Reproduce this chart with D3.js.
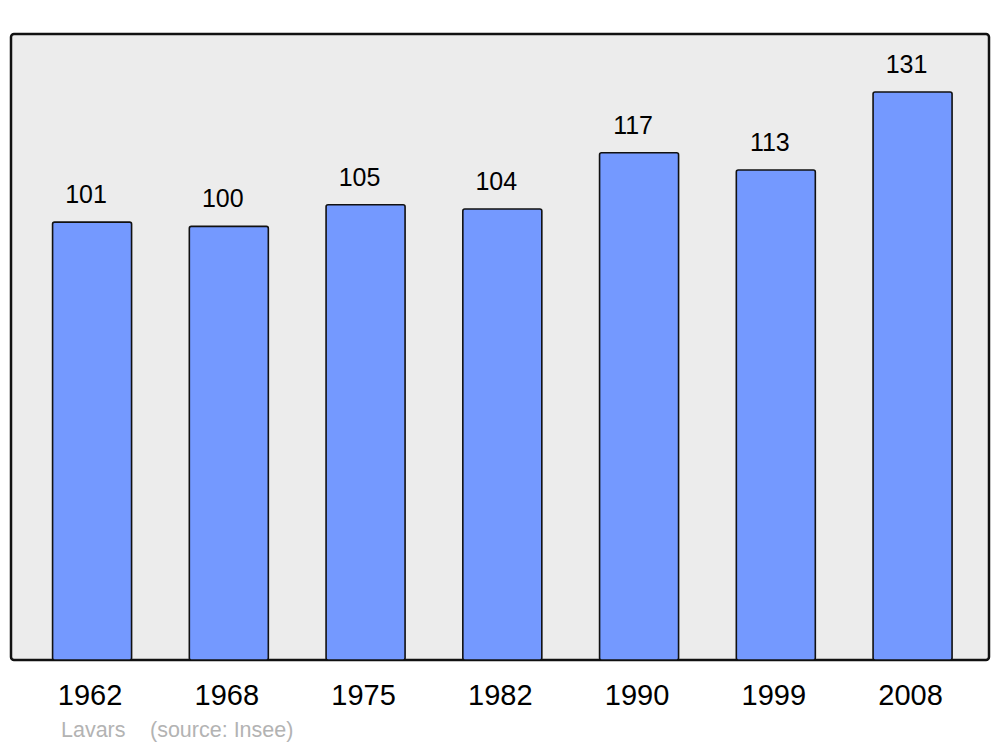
<!DOCTYPE html>
<html>
<head>
<meta charset="utf-8">
<script src="https://cdn.jsdelivr.net/npm/d3@7"></script>
<style>
  body { margin: 0; background: #fff; }
  text { font-family: "Liberation Sans", Arial, sans-serif; }
</style>
</head>
<body>
<div id="graph"></div>
<script>
// Data
let years = ["1962", "1968", "1975", "1982", "1990", "1999", "2008"];
let population = [101, 100, 105, 104, 117, 113, 131];
let placeName = "Lavars";
let sourceText = "(source: Insee)";

let width = 1000;
let height = 747;

let svg = d3.select("#graph")
    .append("svg")
    .attr("width", width)
    .attr("height", height);

// Panel
svg.append("rect")
    .attr("x", 11)
    .attr("y", 34)
    .attr("width", 978)
    .attr("height", 626)
    .attr("rx", 3)
    .attr("fill", "#ececec")
    .attr("stroke", "#111")
    .attr("stroke-width", 2.5);

// Scales
let xScale = d3.scaleBand()
    .domain(years)
    .range([23.7, 980.95])
    .paddingInner(0.4223)
    .paddingOuter(0.2112);

let yScale = d3.scaleLinear()
    .domain([0, 131])
    .range([660, 92]);

let data = years.map((y, i) => ({ year: y, value: population[i] }));

// Bars
svg.selectAll(".bar")
    .data(data)
    .enter()
    .append("rect")
    .attr("class", "bar")
    .attr("x", d => xScale(d.year))
    .attr("y", d => yScale(d.value))
    .attr("width", xScale.bandwidth())
    .attr("height", d => yScale(0) - yScale(d.value))
    .attr("rx", 2)
    .attr("fill", "#7499ff")
    .attr("stroke", "#111")
    .attr("stroke-width", 1.6);

// Value labels
svg.selectAll(".value")
    .data(data)
    .enter()
    .append("text")
    .attr("class", "value")
    .attr("x", d => xScale(d.year) + xScale.bandwidth() / 2 - 6)
    .attr("y", d => yScale(d.value) - 19)
    .attr("text-anchor", "middle")
    .attr("font-size", 25)
    .attr("fill", "#000")
    .text(d => d.value);

// Year labels
svg.selectAll(".year")
    .data(data)
    .enter()
    .append("text")
    .attr("class", "year")
    .attr("x", d => xScale(d.year) + xScale.bandwidth() / 2 - 2)
    .attr("y", 705)
    .attr("text-anchor", "middle")
    .attr("font-size", 29)
    .attr("fill", "#000")
    .text(d => d.year);

// Footer
svg.append("text")
    .attr("x", 61)
    .attr("y", 737)
    .attr("font-size", 21.5)
    .attr("fill", "#b3b3b3")
    .text(placeName);

svg.append("text")
    .attr("x", 150)
    .attr("y", 737)
    .attr("font-size", 21.5)
    .attr("fill", "#b3b3b3")
    .text(sourceText);
</script>
</body>
</html>
